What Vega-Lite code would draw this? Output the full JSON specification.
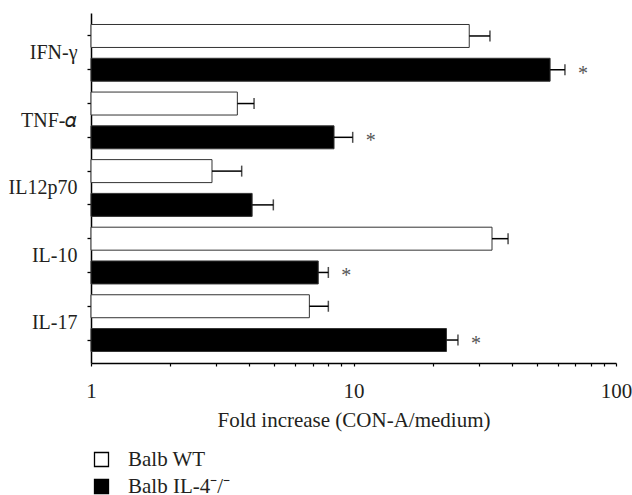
{
  "$schema": "https://vega.github.io/schema/vega-lite/v6.json",
  "width": 525,
  "height": 350,
  "autosize": {"type": "none"},
  "padding": {"left": 91, "top": 13, "right": 16, "bottom": 132},
  "background": "white",
  "config": {
    "view": {"stroke": null},
    "font": "Liberation Serif",
    "text": {"font": "Liberation Serif"},
    "legend": {"labelFont": "Liberation Serif"},
    "axis": {"grid": false, "domainColor": "#000", "tickColor": "#000", "labelColor": "#231f20", "titleColor": "#231f20", "labelFont": "Liberation Serif", "titleFont": "Liberation Serif"}
  },
  "data": {
    "values": [
      {"bar": "IFN-γ / WT", "cytokine": "IFN-γ", "group": "Balb WT", "value": 27.6, "upper": 33.1, "sig": ""},
      {"bar": "IFN-γ / KO", "cytokine": "IFN-γ", "group": "Balb IL-4⁻/⁻", "value": 56.1, "upper": 63.9, "sig": "*"},
      {"bar": "TNF-𝛼 / WT", "cytokine": "TNF-𝛼", "group": "Balb WT", "value": 3.61, "upper": 4.18, "sig": ""},
      {"bar": "TNF-𝛼 / KO", "cytokine": "TNF-𝛼", "group": "Balb IL-4⁻/⁻", "value": 8.43, "upper": 9.93, "sig": "*"},
      {"bar": "IL12p70 / WT", "cytokine": "IL12p70", "group": "Balb WT", "value": 2.89, "upper": 3.75, "sig": ""},
      {"bar": "IL12p70 / KO", "cytokine": "IL12p70", "group": "Balb IL-4⁻/⁻", "value": 4.11, "upper": 4.95, "sig": ""},
      {"bar": "IL-10 / WT", "cytokine": "IL-10", "group": "Balb WT", "value": 33.7, "upper": 38.8, "sig": ""},
      {"bar": "IL-10 / KO", "cytokine": "IL-10", "group": "Balb IL-4⁻/⁻", "value": 7.34, "upper": 8.02, "sig": "*"},
      {"bar": "IL-17 / WT", "cytokine": "IL-17", "group": "Balb WT", "value": 6.79, "upper": 8.02, "sig": ""},
      {"bar": "IL-17 / KO", "cytokine": "IL-17", "group": "Balb IL-4⁻/⁻", "value": 22.6, "upper": 25.0, "sig": "*"}
    ]
  },
  "encoding": {
    "y": {
      "field": "bar",
      "type": "nominal",
      "sort": null,
      "scale": {"paddingInner": 0.32, "paddingOuter": 0.34},
      "axis": {
        "title": null,
        "domainWidth": 1.5,
        "tickSize": 4,
        "tickWidth": 1.3,
        "labelFont": "Liberation Serif",
        "labelFontSize": 20,
        "labelPadding": 10,
        "labelOffset": 17,
        "labelExpr": "indexof(datum.label, 'WT') > 0 ? split(datum.label, ' / ')[0] : ''"
      }
    }
  },
  "layer": [
    {
      "mark": {"type": "bar", "stroke": "#333", "strokeWidth": 1},
      "encoding": {
        "x": {
          "field": "value",
          "type": "quantitative",
          "scale": {"type": "log", "domain": [1, 100], "nice": false},
          "axis": {
            "title": "Fold increase (CON-A/medium)",
            "values": [1, 2, 3, 4, 5, 6, 7, 8, 9, 10, 20, 30, 40, 50, 60, 70, 80, 90, 100],
            "labelExpr": "datum.value == 1 || datum.value == 10 || datum.value == 100 ? format(datum.value, 'd') : ''",
            "labelFlush": false,
            "labelFont": "Liberation Serif",
            "labelFontSize": 21,
            "labelPadding": 14,
            "tickSize": 3,
            "tickWidth": 1.2,
            "domainWidth": 1.5,
            "titleFont": "Liberation Serif",
            "titleFontSize": 21,
            "titleFontWeight": "normal",
            "titlePadding": 8
          }
        },
        "x2": {"datum": 1},
        "fill": {
          "field": "group",
          "type": "nominal",
          "sort": null,
          "scale": {"domain": ["Balb WT", "Balb IL-4⁻/⁻"], "range": ["#ffffff", "#000000"]},
          "legend": {
            "title": null,
            "orient": "none",
            "legendX": 0,
            "legendY": 436,
            "padding": 0,
            "symbolType": "square",
            "symbolSize": 196,
            "symbolStrokeColor": "#000",
            "symbolStrokeWidth": 1.3,
            "labelFont": "Liberation Serif",
            "labelFontSize": 21,
            "labelColor": "#231f20",
            "labelOffset": 16,
            "rowPadding": 5
          }
        }
      }
    },
    {
      "mark": {"type": "rule", "color": "#000", "strokeWidth": 1.5},
      "encoding": {
        "x": {"field": "value", "type": "quantitative"},
        "x2": {"field": "upper"}
      }
    },
    {
      "mark": {"type": "tick", "color": "#000", "thickness": 1.5, "size": 11, "orient": "vertical"},
      "encoding": {
        "x": {"field": "upper", "type": "quantitative"}
      }
    },
    {
      "mark": {"type": "text", "align": "center", "baseline": "middle", "dx": 18, "dy": 4, "fontSize": 20, "color": "#555", "font": "Liberation Serif"},
      "encoding": {
        "x": {"field": "upper", "type": "quantitative"},
        "text": {"field": "sig"}
      }
    }
  ]
}
